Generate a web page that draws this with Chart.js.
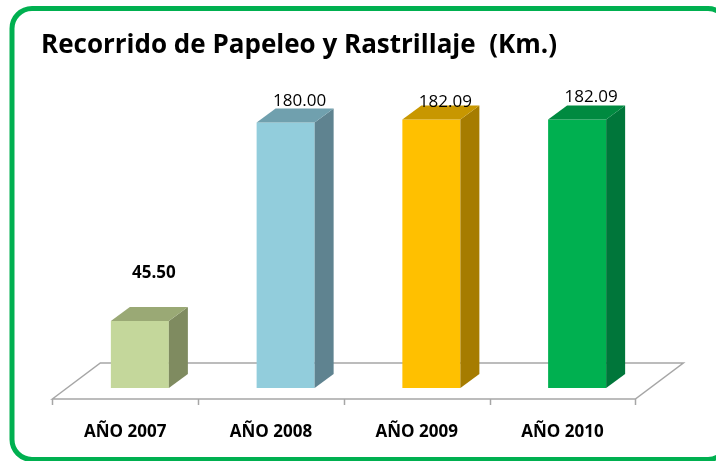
<!DOCTYPE html>
<html>
<head>
<meta charset="utf-8">
<script src="https://cdn.jsdelivr.net/npm/chart.js@4.4.1/dist/chart.umd.min.js"></script>
<style>
  body { margin: 0; background: #ffffff; }
  #wrap { width: 716px; height: 461px; }
</style>
</head>
<body>
<div id="wrap"><canvas id="km_chart" width="716" height="461"></canvas></div>
<script>
// data
var years = ["AÑO 2007", "AÑO 2008", "AÑO 2009", "AÑO 2010"];
var kms = [45.50, 180.00, 182.09, 182.09];
var valueLabels = ["45.50", "180.00", "182.09", "182.09"];

var frontColors = ["#c4d79b", "#92cddc", "#ffc000", "#00b050"];
var sideColors = ["#7f8b60", "#5f8390", "#a67c00", "#00763a"];
var topColors = ["#9aa975", "#70a0ae", "#c89700", "#008a40"];

var title = "Recorrido de Papeleo y Rastrillaje  (Km.)";

// fake 3d: offsets of the bar depth and the floor depth
var DEPTH_X = 19, DEPTH_Y = 14;
var FLOOR_X = 48, FLOOR_Y = 36, FLOOR_FRONT = 11;
var SHIFT = FLOOR_FRONT * FLOOR_X / FLOOR_Y;

function fitText(ctx, text, x, y, maxW) {
    var w = ctx.measureText(text).width;
    ctx.save();
    ctx.translate(x, y);
    if (w > maxW) ctx.scale(maxW / w, 1);
    ctx.fillText(text, 0, 0);
    ctx.restore();
}

var frame3d = {
    id: 'frame3d',
    beforeDraw: function(chart) {
        var ctx = chart.ctx;
        ctx.save();
        ctx.fillStyle = "#ffffff";
        ctx.fillRect(0, 0, chart.width, chart.height);
        // green frame, right and bottom run off the picture
        ctx.strokeStyle = "#00b050";
        ctx.lineWidth = 5;
        ctx.beginPath();
        ctx.roundRect(12, 8.5, 716, 451, 20);
        ctx.stroke();
        // title
        ctx.fillStyle = "#000000";
        ctx.font = "bold 27px 'Open Sans'";
        ctx.textBaseline = "alphabetic";
        fitText(ctx, title, 41, 53, 516);
        ctx.restore();
    },
    beforeDatasetsDraw: function(chart) {
        var ctx = chart.ctx, area = chart.chartArea, x = chart.scales.x;
        var n = years.length;
        var step = (area.right - area.left) / n;
        var fy = area.bottom + FLOOR_FRONT;
        var fl = area.left - SHIFT, fr = area.right - SHIFT;
        ctx.save();
        ctx.strokeStyle = "#a6a6a6";
        ctx.lineWidth = 1.5;
        ctx.fillStyle = "#ffffff";
        ctx.beginPath();
        ctx.moveTo(fl, fy);
        ctx.lineTo(fl + FLOOR_X, fy - FLOOR_Y);
        ctx.lineTo(fr + FLOOR_X, fy - FLOOR_Y);
        ctx.lineTo(fr, fy);
        ctx.closePath();
        ctx.fill();
        ctx.stroke();
        ctx.beginPath();
        for (var i = 0; i <= n; i++) {
            var tx = Math.round(fl + i * step) + 0.5;
            ctx.moveTo(tx, fy);
            ctx.lineTo(tx, fy + 6);
        }
        ctx.stroke();
        // category labels under the front edge
        ctx.fillStyle = "#000000";
        ctx.font = "bold 17px 'Open Sans'";
        ctx.textAlign = "left";
        for (var j = 0; j < n; j++) {
            var cx = x.getPixelForValue(j) - SHIFT;
            var w = Math.min(ctx.measureText(years[j]).width, 84);
            fitText(ctx, years[j], cx - w / 2, 437, 84);
        }
        ctx.restore();
    },
    afterDatasetsDraw: function(chart) {
        var ctx = chart.ctx;
        var lift = chart.options.plugins.frame3d.labelLift;
        var bars = chart.getDatasetMeta(0).data;
        ctx.save();
        bars.forEach(function(bar, i) {
            var p = bar.getProps(['x', 'y', 'base', 'width'], true);
            var l = p.x - p.width / 2, r = p.x + p.width / 2;
            // side face
            ctx.fillStyle = sideColors[i];
            ctx.beginPath();
            ctx.moveTo(r, p.y);
            ctx.lineTo(r + DEPTH_X, p.y - DEPTH_Y);
            ctx.lineTo(r + DEPTH_X, p.base - DEPTH_Y);
            ctx.lineTo(r, p.base);
            ctx.closePath();
            ctx.fill();
            // top face
            ctx.fillStyle = topColors[i];
            ctx.beginPath();
            ctx.moveTo(l, p.y);
            ctx.lineTo(l + DEPTH_X, p.y - DEPTH_Y);
            ctx.lineTo(r + DEPTH_X, p.y - DEPTH_Y);
            ctx.lineTo(r, p.y);
            ctx.closePath();
            ctx.fill();
            // value label
            ctx.fillStyle = "#000000";
            ctx.font = (i === 0 ? "bold " : "") + "17px 'Open Sans'";
            ctx.textAlign = "center";
            ctx.textBaseline = "middle";
            ctx.fillText(valueLabels[i], p.x + 14, p.y - lift[i]);
        });
        ctx.restore();
    }
};

var ctx = document.getElementById("km_chart");
var kmChart = new Chart(ctx, {
    type: 'bar',
    data: {
        labels: years,
        datasets: [
            {
                label: "Km.",
                data: kms,
                backgroundColor: frontColors,
                borderWidth: 0,
                barPercentage: 1,
                categoryPercentage: 0.398
            }
        ]
    },
    options: {
        responsive: false,
        animation: false,
        layout: { padding: { left: 67, right: 66, top: 93, bottom: 73 } },
        scales: {
            x: { display: false },
            y: { display: false, min: 0, max: 200 }
        },
        plugins: {
            legend: { display: false },
            tooltip: { enabled: false },
            frame3d: { labelLift: [48, 21, 17, 22] }
        }
    },
    plugins: [frame3d]
});
</script>
</body>
</html>
